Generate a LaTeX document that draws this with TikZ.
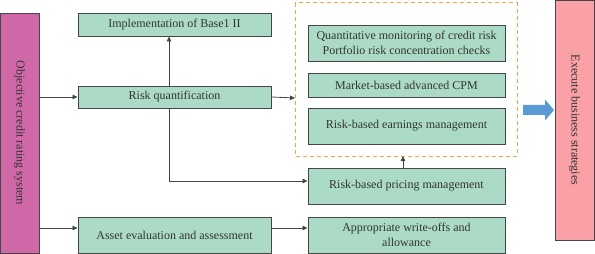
\documentclass[tikz,border=0pt]{standalone}
\usepackage{fontspec}
\setmainfont{Liberation Serif}
\definecolor{boxgreen}{HTML}{ABDBC7}
\definecolor{boxmag}{HTML}{D068A8}
\definecolor{boxpink}{HTML}{F9A1A6}
\definecolor{edgegray}{HTML}{454545}
\definecolor{dashorange}{HTML}{F6A24A}
\definecolor{arrowblue}{HTML}{5B9BD5}
\usetikzlibrary{arrows.meta}
\begin{document}
\begin{tikzpicture}[x=1pt,y=-1pt,
  gbox/.style={draw=edgegray,line width=0.9pt,fill=boxgreen,align=center,inner sep=1pt,font=\fontsize{12}{14.5}\selectfont,text=black!80},
  conn/.style={draw=edgegray,line width=0.8pt,-{Triangle[length=5pt,width=4.5pt]}},
  plainline/.style={draw=edgegray,line width=0.8pt}]
\useasboundingbox (0,0) rectangle (595,254);
% side boxes
\node[draw=edgegray,line width=0.9pt,fill=boxmag,minimum width=39pt,minimum height=240pt,inner sep=0pt] (obj) at (19.5,133) {};
\node[rotate=-90,font=\fontsize{12}{13}\selectfont,text=black!80] (objt) at (obj.center) {Objective credit rating system};
\node[draw=edgegray,line width=0.9pt,fill=boxpink,minimum width=39pt,minimum height=240pt,inner sep=0pt] (exe) at (574.5,120) {};
\node[rotate=-90,font=\fontsize{12}{13}\selectfont,text=black!80] (exet) at (exe.center) {Execute business strategies};
% dashed group
\draw[draw=dashorange,line width=1pt,dash pattern=on 4pt off 3pt] (295,3) rectangle (517,156);
\coordinate (grpL) at (295,98);
\coordinate (grpB) at (403,156);
% green boxes
\node[gbox,minimum width=193pt,minimum height=23pt] (impl) at (174.5,24.5) {Implementation of Base1 II};
\node[gbox,minimum width=193pt,minimum height=22pt] (rq) at (174.5,97) {Risk quantification};
\node[gbox,minimum width=193pt,minimum height=36pt] (asset) at (174.5,235) {Asset evaluation and assessment};
\node[gbox,minimum width=197pt,minimum height=36pt] (quant) at (406.5,43) {Quantitative monitoring of credit risk\\Portfolio risk concentration checks};
\node[gbox,minimum width=197pt,minimum height=24pt] (market) at (406.5,85) {Market-based advanced CPM};
\node[gbox,minimum width=197pt,minimum height=36pt] (earn) at (406.5,126) {Risk-based earnings management};
\node[gbox,minimum width=197pt,minimum height=36pt] (price) at (406.5,186) {Risk-based pricing management};
\node[gbox,minimum width=197pt,minimum height=36pt] (appr) at (406.5,235) {Appropriate write-offs and\\allowance};
% connectors
\draw[conn] (obj.east |- rq) -- (rq.west);
\draw[conn] (obj.east |- 0,228) -- (asset.west |- 0,228);
\draw[conn] (rq.east) -- (grpL);
\draw[conn] (169,86) -- (impl.south -| 169,0);
\draw[conn] (rq.south -| 169,0) -- (169,181) -- (price.west |- 0,181);
\draw[conn] (asset.east |- 0,228) -- (appr.west |- 0,228);
\draw[conn] (price.north -| grpB) -- (grpB);
% blue arrow
\fill[arrowblue] (523,105) -- (545,105) -- (545,99.5) -- (554,110) -- (545,120.5) -- (545,115) -- (523,115) -- cycle;
\end{tikzpicture}
\end{document}
